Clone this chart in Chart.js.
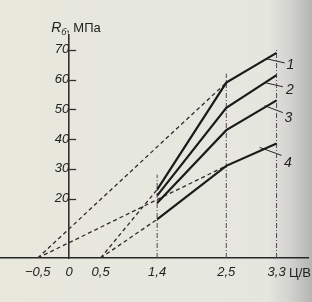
<!DOCTYPE html>
<html>
<head>
<meta charset="utf-8">
<script src="https://cdn.jsdelivr.net/npm/chart.js@4.4.0/dist/chart.umd.min.js"></script>
<style>
  html, body { margin: 0; padding: 0; }
  body {
    width: 312px; height: 302px; overflow: hidden;
    background: linear-gradient(to right, #e8e8dd 0%, #e5e6de 86%, #d2d2cf 93%, #b4b4b4 100%);
  }
  #wrap { width: 312px; height: 302px; }
</style>
</head>
<body>
<div id="wrap"><canvas id="chart"></canvas></div>
<script>
// knots on the x axis (Ц/В) where the curves are measured
var xKnots = [1.4, 2.5, 3.3];

// R_б, МПа for the four curves
var curve1 = [23, 59, 69];
var curve2 = [21, 50.5, 61.5];
var curve3 = [18.5, 43, 53];
var curve4 = [13, 31, 38.5];

// dashed construction lines (x pairs / y pairs)
var rayX = [[-0.5, 2.5], [-0.5, 2.5], [0.5, 1.4], [0.5, 1.4]];
var rayY = [[0, 59], [0, 31], [0, 23], [0, 13]];

// dash-dot drop lines
var guideX = [1.4, 2.5, 3.3];
var guideTop = [28, 62, 70.5];

// tick labels
var xTicks = [-0.5, 0, 0.5, 1.4, 2.5, 3.3];
var xTickLabels = ["\u22120,5", "0", "0,5", "1,4", "2,5", "3,3"];
var yTicks = [20, 30, 40, 50, 60, 70];

// curve number labels with leader lines
var curveNames = ["1", "2", "3", "4"];
var leaderX = [[3.14, 3.43], [3.11, 3.40], [3.11, 3.40], [3.03, 3.38]];
var leaderY = [[67, 65.6], [59, 57.6], [51.2, 48.9], [37.2, 34.5]];
var nameX = [3.52, 3.51, 3.49, 3.48];
var nameY = [65, 56.3, 47.2, 32];

function pts(xs, ys) {
  return xs.map(function (x, i) { return { x: x, y: ys[i] }; });
}

var datasets = [];
[curve1, curve2, curve3, curve4].forEach(function (c) {
  datasets.push({ data: pts(xKnots, c), borderColor: "#1a1a1a", borderWidth: 2.2 });
});
rayX.forEach(function (xs, i) {
  datasets.push({ data: pts(xs, rayY[i]), borderColor: "#302b2e", borderWidth: 1.3, borderDash: [4, 3] });
});
guideX.forEach(function (x, i) {
  datasets.push({ data: pts([x, x], [0, guideTop[i]]), borderColor: "#574450", borderWidth: 1, borderDash: [5, 2, 1, 2] });
});
leaderX.forEach(function (xs, i) {
  datasets.push({ data: pts(xs, leaderY[i]), borderColor: "#262626", borderWidth: 1 });
});

var textPlugin = {
  id: "texts",
  afterDraw: function (chart) {
    var ctx = chart.ctx;
    var sx = chart.scales.x, sy = chart.scales.y;
    var ax = sx.getPixelForValue(0);
    ctx.save();
    // y tick marks, pointing right of the axis
    ctx.strokeStyle = "#3a2a32";
    ctx.lineWidth = 1.3;
    yTicks.forEach(function (v) {
      var py = Math.round(sy.getPixelForValue(v)) + 0.5;
      ctx.beginPath();
      ctx.moveTo(ax, py);
      ctx.lineTo(ax + 7, py);
      ctx.stroke();
    });
    ctx.fillStyle = "#222";
    ctx.textBaseline = "alphabetic";
    // axis title
    ctx.textAlign = "left";
    ctx.font = "italic 14px 'Liberation Sans'";
    ctx.fillText("R", ax - 18, 32);
    ctx.font = "italic 9px 'Liberation Sans'";
    ctx.fillText("\u0431", ax - 8, 35);
    ctx.font = "13px 'Liberation Sans'";
    ctx.fillText(", \u041c\u041f\u0430", ax - 3, 32);
    // x unit
    ctx.textAlign = "center";
    ctx.fillText("\u0426/\u0412", sx.right - 8, 277);
    // curve numbers
    ctx.font = "italic 14px 'Liberation Sans'";
    ctx.textBaseline = "middle";
    curveNames.forEach(function (n, i) {
      ctx.fillText(n, sx.getPixelForValue(nameX[i]), sy.getPixelForValue(nameY[i]));
    });
    ctx.restore();
  }
};

new Chart(document.getElementById("chart"), {
  type: "scatter",
  data: { datasets: datasets },
  options: {
    responsive: true,
    maintainAspectRatio: false,
    animation: false,
    showLine: true,
    elements: { point: { radius: 0 }, line: { tension: 0 } },
    layout: { padding: { top: 35, right: 4, left: 0, bottom: 0 } },
    plugins: { legend: { display: false }, tooltip: { enabled: false } },
    scales: {
      x: {
        type: "linear",
        min: -1.1,
        max: 3.8,
        position: "bottom",
        afterBuildTicks: function (scale) {
          scale.ticks = xTicks.map(function (v) { return { value: v }; });
        },
        afterFit: function (scale) { scale.height = 44; },
        grid: { drawOnChartArea: false, drawTicks: false },
        border: { display: true, color: "#262626", width: 1.6 },
        ticks: {
          padding: 7,
          color: "#222",
          font: { family: "'Liberation Sans'", size: 13, style: "italic" },
          maxRotation: 0,
          autoSkip: false,
          callback: function (v, i) { return xTickLabels[i]; }
        }
      },
      y: {
        type: "linear",
        min: 0,
        max: 75,
        position: { x: 0 },
        afterBuildTicks: function (scale) {
          scale.ticks = yTicks.map(function (v) { return { value: v }; });
        },
        grid: { drawOnChartArea: false, drawTicks: false },
        border: { display: true, color: "#3a2a32", width: 1.6 },
        ticks: {
          padding: 3,
          color: "#222",
          font: { family: "'Liberation Sans'", size: 13, style: "italic" },
          callback: function (v) { return String(v); }
        }
      }
    }
  },
  plugins: [textPlugin]
});
</script>
</body>
</html>
